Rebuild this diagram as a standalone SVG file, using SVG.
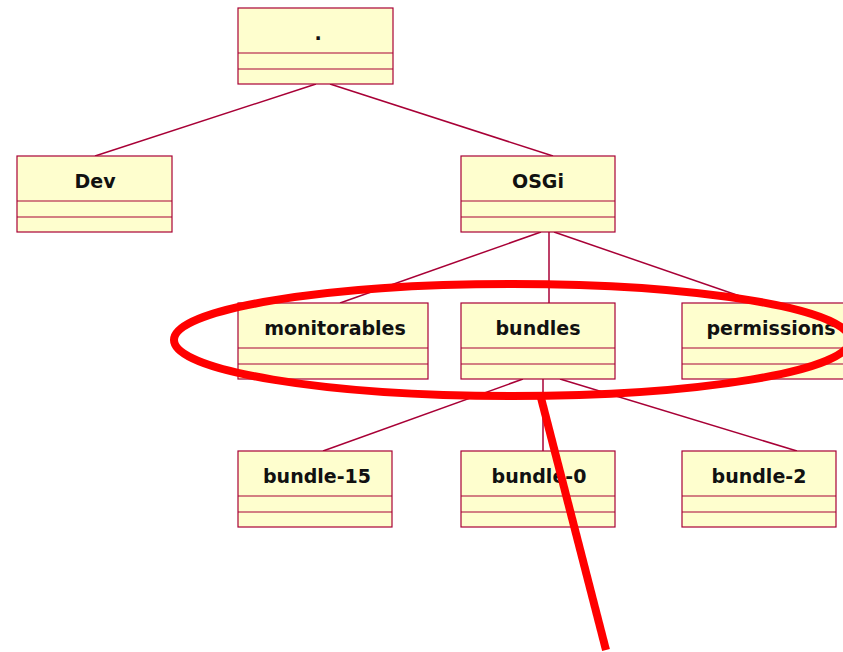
<svg xmlns="http://www.w3.org/2000/svg" width="843" height="652" viewBox="0 0 843 652">
<style>
.box{fill:#fefece;stroke:#a80036;stroke-width:1.2}
.sep{stroke:#a80036;stroke-width:1.2}
.lbl{font-family:"DejaVu Sans",Verdana,sans-serif;font-weight:bold;font-size:19px;fill:#111;text-anchor:middle}
.edge{stroke:#a80036;stroke-width:1.5;fill:none}
.mark{fill:none;stroke:#ff0000;stroke-width:8}
</style>
<rect width="843" height="652" fill="#ffffff"/>
<g id="connectors">
<line class="edge" x1="316" y1="84" x2="95" y2="156"/>
<line class="edge" x1="330" y1="84" x2="553" y2="156"/>
<line class="edge" x1="541" y1="232" x2="340" y2="303"/>
<line class="edge" x1="549" y1="232" x2="549" y2="303"/>
<line class="edge" x1="554" y1="232" x2="760" y2="303"/>
<line class="edge" x1="523" y1="379" x2="323" y2="451"/>
<line class="edge" x1="543" y1="379" x2="543" y2="451"/>
<line class="edge" x1="560" y1="379" x2="797" y2="451"/>
</g>
<g id="node-root">
<rect class="box" x="238" y="8" width="155" height="76"/>
<line class="sep" x1="238" y1="53" x2="393" y2="53"/>
<line class="sep" x1="238" y1="69" x2="393" y2="69"/>
<text class="lbl" x="318" y="40">.</text>
</g>
<g id="node-dev">
<rect class="box" x="17" y="156" width="155" height="76"/>
<line class="sep" x1="17" y1="201" x2="172" y2="201"/>
<line class="sep" x1="17" y1="217" x2="172" y2="217"/>
<text class="lbl" x="95" y="188">Dev</text>
</g>
<g id="node-osgi">
<rect class="box" x="461" y="156" width="154" height="76"/>
<line class="sep" x1="461" y1="201" x2="615" y2="201"/>
<line class="sep" x1="461" y1="217" x2="615" y2="217"/>
<text class="lbl" x="538" y="188">OSGi</text>
</g>
<g id="node-monitorables">
<rect class="box" x="238" y="303" width="190" height="76"/>
<line class="sep" x1="238" y1="348" x2="428" y2="348"/>
<line class="sep" x1="238" y1="364" x2="428" y2="364"/>
<text class="lbl" x="335" y="335">monitorables</text>
</g>
<g id="node-bundles">
<rect class="box" x="461" y="303" width="154" height="76"/>
<line class="sep" x1="461" y1="348" x2="615" y2="348"/>
<line class="sep" x1="461" y1="364" x2="615" y2="364"/>
<text class="lbl" x="538" y="335">bundles</text>
</g>
<g id="node-permissions">
<rect class="box" x="682" y="303" width="175" height="76"/>
<line class="sep" x1="682" y1="348" x2="857" y2="348"/>
<line class="sep" x1="682" y1="364" x2="857" y2="364"/>
<text class="lbl" x="771" y="335">permissions</text>
</g>
<g id="node-bundle-15">
<rect class="box" x="238" y="451" width="154" height="76"/>
<line class="sep" x1="238" y1="496" x2="392" y2="496"/>
<line class="sep" x1="238" y1="512" x2="392" y2="512"/>
<text class="lbl" x="317" y="483">bundle-15</text>
</g>
<g id="node-bundle-0">
<rect class="box" x="461" y="451" width="154" height="76"/>
<line class="sep" x1="461" y1="496" x2="615" y2="496"/>
<line class="sep" x1="461" y1="512" x2="615" y2="512"/>
<text class="lbl" x="539" y="483">bundle-0</text>
</g>
<g id="node-bundle-2">
<rect class="box" x="682" y="451" width="154" height="76"/>
<line class="sep" x1="682" y1="496" x2="836" y2="496"/>
<line class="sep" x1="682" y1="512" x2="836" y2="512"/>
<text class="lbl" x="759" y="483">bundle-2</text>
</g>
<g id="annotation">
<ellipse class="mark" cx="512" cy="340" rx="338" ry="56"/>
<line class="mark" x1="540" y1="394" x2="606" y2="650" stroke-width="9"/>
</g>
</svg>
